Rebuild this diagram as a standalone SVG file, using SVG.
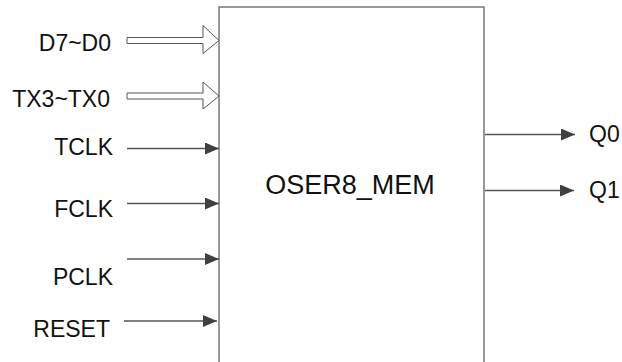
<svg xmlns="http://www.w3.org/2000/svg" width="622" height="362" viewBox="0 0 622 362">
<style>
text{font-family:"Liberation Sans",Arial,sans-serif;font-size:23px;fill:#111}
.l{text-anchor:end}
.c{stroke:#555;stroke-width:1.3;fill:none}
.bus{stroke:#555;stroke-width:1;fill:#fff}
</style>
<defs>
<marker id="ah" markerWidth="14" markerHeight="12" refX="14" refY="6" orient="auto" markerUnits="userSpaceOnUse">
<path d="M0,0 L14,6 L0,12 Z" fill="#404040"/>
</marker>
</defs>
<rect width="622" height="362" fill="#fff"/>
<g id="block">
<rect x="219" y="7" width="265" height="370" fill="#fff" stroke="#777" stroke-width="1.5"/>
<text x="350" y="194" text-anchor="middle" style="font-size:27px">OSER8_MEM</text>
</g>
<g id="connectors">
<polygon class="bus" points="127,37.5 203,37.5 203,25.5 219,40.5 203,53.5 203,43.5 127,43.5"/>
<polygon class="bus" points="127,93 203,93 203,82 219,96 203,109 203,99 127,99"/>
<line class="c" x1="127" y1="148.5" x2="219" y2="148.5" marker-end="url(#ah)"/>
<line class="c" x1="127" y1="203.5" x2="219" y2="203.5" marker-end="url(#ah)"/>
<line class="c" x1="127" y1="259" x2="219" y2="259" marker-end="url(#ah)"/>
<line class="c" x1="124" y1="321" x2="217" y2="321" marker-end="url(#ah)"/>
<line class="c" x1="485" y1="134.5" x2="575" y2="134.5" marker-end="url(#ah)"/>
<line class="c" x1="485" y1="190.5" x2="574" y2="190.5" marker-end="url(#ah)"/>
</g>
<g id="labels">
<text class="l" x="111" y="51">D7~D0</text>
<text class="l" x="110" y="107">TX3~TX0</text>
<text class="l" x="113" y="155">TCLK</text>
<text class="l" x="113" y="217">FCLK</text>
<text class="l" x="113" y="285">PCLK</text>
<text class="l" x="110" y="337">RESET</text>
<text x="589" y="142">Q0</text>
<text x="589" y="198">Q1</text>
</g>
</svg>
